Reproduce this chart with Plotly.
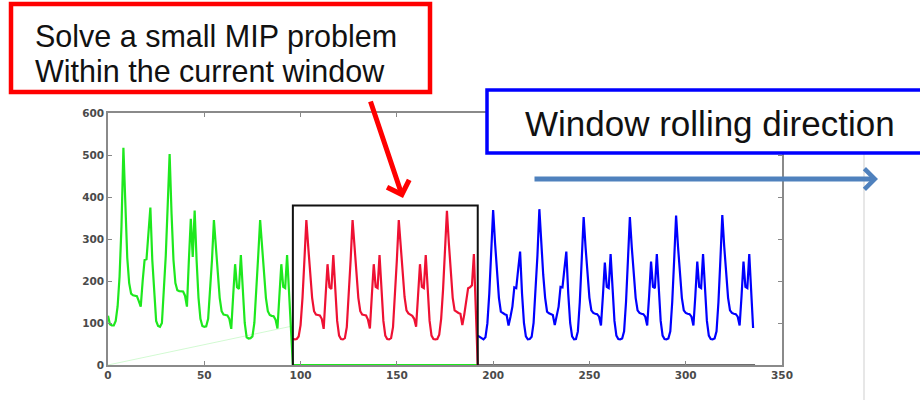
import plotly.graph_objects as go

# ---------------- data ----------------
# hourly demand, one list of 24 values per day (x = 0 .. 335)
day0 = [117, 97, 94, 94, 105, 140, 210, 330, 517, 370, 255, 195, 170, 166, 165, 164, 152, 139, 200, 250, 252, 310, 375, 250]
day1 = [160, 105, 93, 91, 100, 170, 260, 380, 502, 360, 250, 195, 178, 176, 176, 175, 165, 139, 250, 348, 257, 368, 250, 160]
day2 = [110, 93, 91, 92, 110, 170, 250, 345, 280, 215, 160, 128, 120, 119, 118, 110, 86, 165, 240, 185, 181, 262, 170, 100]
day3 = [66, 63, 64, 68, 100, 170, 260, 345, 280, 215, 160, 128, 119, 117, 116, 108, 87, 165, 240, 186, 183, 262, 180, 110]
day4 = [62, 61, 62, 68, 95, 160, 250, 345, 280, 215, 160, 128, 120, 119, 118, 110, 86, 165, 240, 185, 181, 262, 175, 105]
day5 = [70, 62, 61, 64, 90, 160, 250, 345, 280, 215, 160, 128, 120, 119, 118, 108, 87, 165, 240, 186, 183, 262, 175, 105]
day6 = [70, 62, 61, 64, 90, 160, 250, 345, 282, 218, 162, 130, 123, 120, 117, 110, 91, 165, 240, 186, 183, 262, 175, 105]
day7 = [70, 62, 61, 62, 72, 110, 180, 270, 367, 290, 215, 160, 130, 126, 124, 122, 95, 120, 147, 183, 185, 190, 264, 130]
day8 = [70, 67, 63, 61, 66, 99, 170, 260, 369, 290, 215, 160, 127, 123, 121, 119, 94, 115, 139, 185, 183, 228, 270, 170]
day9 = [100, 68, 61, 62, 67, 100, 170, 260, 371, 290, 215, 160, 127, 123, 121, 119, 95, 115, 139, 186, 185, 228, 270, 170]
day10 = [100, 68, 61, 62, 80, 150, 250, 352, 280, 215, 160, 130, 124, 122, 121, 115, 94, 165, 244, 186, 183, 264, 175, 105]
day11 = [70, 62, 61, 63, 80, 150, 250, 352, 280, 215, 160, 130, 124, 122, 121, 115, 94, 165, 246, 186, 183, 264, 175, 105]
day12 = [70, 62, 61, 63, 80, 150, 250, 356, 282, 217, 160, 130, 124, 122, 121, 115, 94, 165, 246, 186, 183, 264, 175, 105]
day13 = [70, 62, 61, 63, 80, 150, 250, 357, 282, 217, 160, 130, 124, 122, 121, 115, 94, 165, 246, 186, 183, 264, 175, 88]

green_days = [day0, day1, day2, day3]          # before the window
red_days = [day4, day5, day6, day7]            # inside the current window
blue_days = [day8, day9, day10, day11, day12, day13]  # after the window

green_start, red_start, blue_start = 0, 96, 192
green_tail = [0] * 97      # green series sits at 0 from 96 to 192
red_tail = [0]             # red series drops to 0 at 192

window_x = [96, 96, 192, 192]
window_y = [0, 380, 380, 0]

faint_x = [0, 96]
faint_y = [0, 93]

base_x = [192, 336]
base_y = [0, 0]

x_ticks = [0, 50, 100, 150, 200, 250, 300, 350]
y_ticks = [0, 100, 200, 300, 400, 500, 600]

box_text = ["Solve a small MIP problem", "Within the current window"]
dir_text = "Window rolling direction"

# ---------------- build series ----------------
def flatten(days):
    out = []
    for d in days:
        out.extend(d)
    return out

green_y = flatten(green_days) + green_tail
green_x = list(range(green_start, green_start + len(green_y)))
red_y = flatten(red_days) + red_tail
red_x = list(range(red_start, red_start + len(red_y)))
blue_y = flatten(blue_days)
blue_x = list(range(blue_start, blue_start + len(blue_y)))

fig = go.Figure()
fig.add_trace(go.Scatter(x=faint_x, y=faint_y, mode="lines",
                         line=dict(color="rgba(0,230,0,0.18)", width=1), hoverinfo="skip"))
fig.add_trace(go.Scatter(x=base_x, y=base_y, mode="lines",
                         line=dict(color="#6e6e6e", width=2.2), hoverinfo="skip"))
fig.add_trace(go.Scatter(x=green_x, y=green_y, mode="lines",
                         line=dict(color="#1ee81e", width=2.2)))
fig.add_trace(go.Scatter(x=red_x, y=red_y, mode="lines",
                         line=dict(color="#ee1133", width=2.2)))
fig.add_trace(go.Scatter(x=blue_x, y=blue_y, mode="lines",
                         line=dict(color="#0000ff", width=2.2)))
fig.add_trace(go.Scatter(x=window_x, y=window_y, mode="lines",
                         line=dict(color="#111111", width=2)))

# plot area in page pixels: x 108..782, y 113..365
FW, FH = 920, 400
L, R, T, B = 108, 782, 113, 365
W, H = R - L, B - T

def px(xp):
    return (xp - L) / W

def py(yp):
    return (B - yp) / H

axis_font = dict(family="DejaVu Sans, Arial, sans-serif", size=10.5, color="#4a4a4a", weight="bold")
fig.update_xaxes(range=[0, 350], tickvals=x_ticks, ticks="inside", ticklen=4,
                 tickcolor="#888", showline=True, linecolor="#8a8a8a", linewidth=1.5,
                 mirror="ticks", showgrid=False, zeroline=False, tickfont=axis_font)
fig.update_yaxes(range=[0, 600], tickvals=y_ticks, ticks="inside", ticklen=4,
                 tickcolor="#888", showline=True, linecolor="#8a8a8a", linewidth=1.5,
                 mirror="ticks", showgrid=False, zeroline=False, tickfont=axis_font)

shapes = [
    # slide edge line
    dict(type="line", xref="paper", yref="paper", x0=px(864), x1=px(864), y0=py(90), y1=py(400),
         line=dict(color="#cfcfcf", width=1), layer="above"),
    # red call-out box
    dict(type="rect", xref="paper", yref="paper", x0=px(11), x1=px(430), y0=py(92), y1=py(4),
         line=dict(color="#ff0000", width=4.5), fillcolor="white", layer="above"),
    # blue call-out box
    dict(type="rect", xref="paper", yref="paper", x0=px(487), x1=px(940), y0=py(153), y1=py(90),
         line=dict(color="#0000ff", width=3.5), fillcolor="white", layer="above"),
]

text_font = dict(family="Liberation Sans, Arial, sans-serif", color="#111")
annotations = [
    dict(xref="paper", yref="paper", x=px(33), y=py(36), xanchor="left", yanchor="middle",
         text=box_text[0], showarrow=False, font=dict(size=30.5, **text_font)),
    dict(xref="paper", yref="paper", x=px(33), y=py(71), xanchor="left", yanchor="middle",
         text=box_text[1], showarrow=False, font=dict(size=30.5, **text_font)),
    dict(xref="paper", yref="paper", x=px(523), y=py(124), xanchor="left", yanchor="middle",
         text=dir_text, showarrow=False, font=dict(size=35, **text_font)),
    # red arrow
    dict(xref="paper", yref="paper", x=px(403), y=py(198), ax=-33, ay=-98, text="",
         showarrow=True, arrowhead=4, arrowsize=0.9, arrowwidth=5, arrowcolor="#ff0000"),
    # blue arrow
    dict(xref="paper", yref="paper", x=px(878), y=py(179), ax=-345, ay=0, text="",
         showarrow=True, arrowhead=4, arrowsize=0.8, arrowwidth=5, arrowcolor="#4f81bd"),
]

fig.update_layout(
    width=FW, height=FH,
    margin=dict(l=L, r=FW - R, t=T, b=FH - B, pad=0),
    paper_bgcolor="white", plot_bgcolor="white",
    showlegend=False,
    shapes=shapes, annotations=annotations,
)

fig.write_html("out.html", config={"displayModeBar": False},
               post_script="document.body.style.margin='0';")
